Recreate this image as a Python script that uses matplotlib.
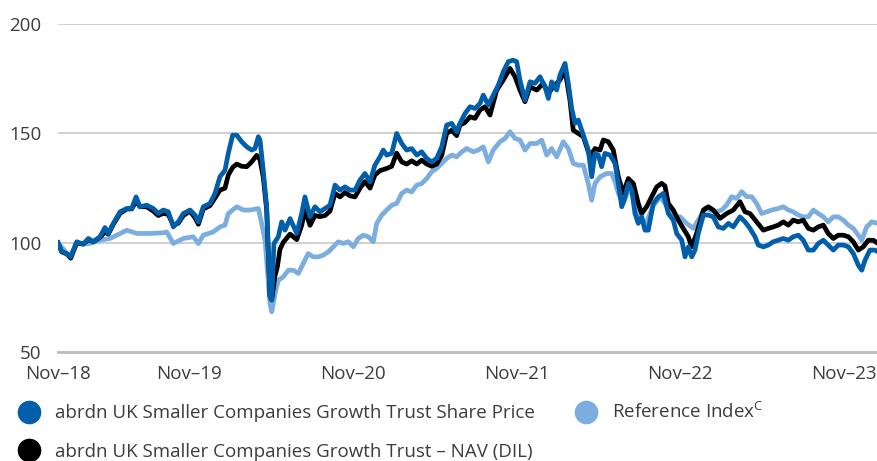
import matplotlib
matplotlib.use("Agg")
import matplotlib.pyplot as plt
from matplotlib.lines import Line2D

# months since start of the five year window
share_months = [0.0, 0.27, 0.64, 0.93, 1.37, 1.85, 2.22, 2.58, 3.07, 3.44, 3.68, 4.05, 4.54, 5.03, 5.39, 5.71,
                6.00, 6.49, 6.97, 7.34, 7.70, 8.07, 8.44, 8.80, 9.17, 9.66, 10.02, 10.27, 10.63, 11.12, 11.49,
                11.85, 12.22, 12.46, 12.78, 13.08, 13.44, 13.81, 14.17, 14.41, 14.66, 14.78, 15.02, 15.27, 15.51,
                15.64, 15.80, 16.12, 16.37, 16.61, 16.98, 17.47, 17.83, 18.07, 18.44, 18.80, 19.17, 19.54, 19.90,
                20.27, 20.63, 21.00, 21.37, 21.73, 22.10, 22.46, 22.83, 23.19, 23.56, 23.80, 24.05, 24.42, 24.78,
                25.15, 25.51, 25.88, 26.25, 26.61, 26.98, 27.34, 27.71, 28.08, 28.44, 28.81, 29.17, 29.41, 29.78,
                30.15, 30.51, 30.88, 31.12, 31.49, 31.85, 32.22, 32.58, 32.95, 33.31, 33.56, 33.80, 34.17, 34.54,
                34.90, 35.27, 35.63, 35.88, 36.12, 36.49, 36.73, 37.10, 37.34, 37.59, 37.83, 38.07, 38.32, 38.56,
                38.80, 39.05, 39.29, 39.53, 39.78, 40.02, 40.39, 40.76, 41.00, 41.25, 41.49, 41.73, 41.98, 42.22,
                42.46, 42.71, 42.95, 43.19, 43.56, 43.93, 44.29, 44.66, 45.02, 45.27, 45.64, 45.88, 46.12, 46.37,
                46.61, 46.85, 47.22, 47.58, 47.95, 48.31, 48.68, 49.05, 49.41, 49.90, 50.27, 50.63, 51.00, 51.24,
                51.61, 51.97, 52.34, 52.70, 53.07, 53.44, 53.80, 54.17, 54.53, 54.90, 55.27, 55.63, 56.00, 56.36,
                56.73, 57.09, 57.46, 57.83, 58.19, 58.56, 58.81, 59.05, 59.41, 59.78, 60.00]
share_values = [100, 95.9, 95, 93.6, 100.5, 99.4, 102, 100.5, 102.8, 107, 104.3, 108.9, 114.2, 115.7, 115.7, 121,
                116.5, 117.2, 115.7, 113.4, 115, 114.2, 107.3, 109.6, 113.4, 115, 112.7, 109.6, 116.5, 118, 122.6,
                130.2, 133.2, 140.9, 149.2, 149.2, 146.2, 143.9, 142.4, 143.1, 148.5, 147, 133, 116.5, 75.3,
                73.8, 99.7, 102.8, 109.6, 105.8, 111.1, 104.3, 113.4, 121, 111.9, 116.5, 114.2, 115.7, 117.2,
                126.4, 124.1, 125.6, 124.1, 124.1, 128.7, 131.7, 127.9, 135.5, 139.3, 142.4, 140.1, 140.9, 150,
                145.4, 142.4, 143.1, 140.1, 141.6, 138.6, 137, 138.6, 143.9, 153.8, 154.6, 150.8, 154.6, 159.1,
                162.2, 161.4, 163.7, 167.5, 163, 167.5, 172.1, 178.2, 182.8, 183.5, 182.8, 174.4, 165.2, 173.6,
                172.9, 175.9, 171.3, 166, 173.6, 169.8, 176.7, 182, 172.9, 161.4, 154.6, 156.1, 151.5, 147,
                142.4, 130.2, 140.9, 140.1, 134.8, 140.9, 140.1, 136.3, 127.1, 116.5, 121, 127.1, 124.1, 113.4,
                108.9, 111.9, 105.8, 105.8, 118, 121, 122.6, 113.4, 110.4, 104.3, 101.2, 93.6, 98.2, 93.6,
                96.7, 104.3, 112.7, 112.7, 111.9, 107.3, 106.6, 108.9, 107.3, 111.9, 109.6, 106.6, 102.8, 99,
                98.2, 99, 100.5, 101.2, 102, 101.2, 102.8, 103.5, 101.2, 96.7, 96.7, 99.7, 101.2, 99,
                96.7, 99, 99, 98.2, 95.2, 89.8, 87.5, 92.1, 96.7, 96.7, 95.9]

nav_months = [0.0, 0.27, 0.64, 0.93, 1.37, 1.85, 2.22, 2.58, 3.07, 3.44, 3.68, 4.05, 4.54, 5.03, 5.39, 5.71,
              6.00, 6.49, 6.97, 7.34, 7.70, 8.07, 8.44, 8.80, 9.17, 9.66, 10.02, 10.27, 10.63, 11.12, 11.49,
              11.85, 12.22, 12.46, 12.78, 13.08, 13.44, 13.81, 14.17, 14.54, 14.78, 15.02, 15.27, 15.51, 15.64,
              15.88, 16.05, 16.24, 16.49, 16.98, 17.47, 17.83, 18.07, 18.44, 18.80, 19.17, 19.54, 19.90, 20.27,
              20.63, 21.00, 21.37, 21.73, 22.10, 22.46, 22.83, 23.19, 23.56, 24.05, 24.42, 24.78, 25.15, 25.51,
              25.88, 26.25, 26.61, 26.98, 27.34, 27.71, 28.08, 28.44, 28.81, 29.17, 29.41, 29.78, 30.15, 30.51,
              30.88, 31.24, 31.61, 32.10, 32.58, 33.07, 33.44, 33.80, 34.17, 34.54, 35.03, 35.51, 35.88, 36.24,
              36.73, 37.10, 37.46, 37.70, 38.07, 38.44, 38.93, 39.29, 39.66, 39.90, 40.27, 40.63, 41.00, 41.36,
              41.73, 42.10, 42.46, 42.71, 43.07, 43.44, 43.81, 44.17, 44.41, 44.66, 45.02, 45.39, 45.75, 46.12,
              46.37, 46.73, 47.22, 47.58, 47.95, 48.44, 48.93, 49.41, 49.90, 50.27, 50.63, 51.12, 51.61, 51.97,
              52.34, 52.70, 53.07, 53.44, 53.80, 54.17, 54.53, 54.90, 55.27, 55.63, 56.00, 56.36, 56.73, 57.09,
              57.46, 57.83, 58.19, 58.56, 58.92, 59.29, 59.66, 60.00]
nav_values = [100, 95.9, 95, 93, 100, 99.4, 101.5, 100.5, 102.5, 105, 104, 108.5, 113.5, 115.5, 115.5, 119,
              116.5, 116.5, 114.5, 112.5, 113.5, 113, 108, 109, 112.5, 114.5, 111.5, 108.5, 115.5, 117, 120.5,
              124.1, 125, 131, 134.5, 136, 135, 134.8, 137, 140, 138, 130, 115, 76, 74,
              85, 89, 97, 100.3, 104, 101.5, 108, 115, 108, 112.5, 112, 112.5, 114.5, 122.6,
              121, 123, 121.5, 121, 125, 128, 125, 131, 133, 134, 135, 141, 137, 136,
              137.5, 136, 137.8, 136, 135, 136, 140, 150, 151.5, 149, 153.8, 155, 157.6, 156.9,
              160.7, 162.2, 158.4, 169.8, 174.4, 179.7, 175.9, 169.8, 164.5, 171.3, 169.8, 172.9, 168.3, 171.3,
              174.4, 179, 165.2, 151.5, 150, 148.5, 139.3, 143.1, 142.4, 147, 146.2, 142.4, 130.2, 122.6,
              129.4, 127.1, 118, 113.4, 116.5, 121, 125.6, 127.2, 126, 118, 115, 110.4, 106.6, 102.8,
              98.2, 104.3, 115, 116.5, 115, 111.2, 113.4, 115, 118.8, 114.2, 113.4, 109.6, 105.8, 106.6,
              107.3, 108.1, 109.6, 108.1, 110.4, 109.6, 110.4, 106.6, 105.8, 107.3, 108.1, 104.3, 102, 103.5,
              103.5, 102.8, 100.5, 96.7, 98.2, 101.2, 101.2, 99.7]

ref_months = [0.0, 0.88, 1.37, 2.34, 3.07, 3.80, 4.30, 5.03, 5.76, 6.73, 7.70, 7.95, 8.44, 9.17, 9.90, 10.27,
              10.63, 11.36, 11.85, 12.22, 12.46, 13.08, 13.56, 14.05, 14.66, 14.93, 15.15, 15.51, 15.64, 15.88,
              16.12, 16.49, 16.85, 17.22, 17.58, 17.95, 18.31, 18.68, 19.05, 19.41, 19.78, 20.14, 20.51, 20.88,
              21.24, 21.61, 21.97, 22.34, 22.70, 23.07, 23.32, 23.69, 24.05, 24.42, 24.78, 25.15, 25.51, 25.88,
              26.25, 26.61, 26.98, 27.34, 27.71, 28.08, 28.44, 28.81, 29.17, 29.54, 29.90, 30.39, 30.75, 31.12,
              31.49, 31.85, 32.34, 32.71, 33.07, 33.44, 33.80, 34.17, 34.54, 35.03, 35.39, 35.76, 36.12, 36.49,
              36.97, 37.34, 37.70, 38.07, 38.44, 38.80, 39.05, 39.29, 39.66, 40.15, 40.51, 40.76, 41.00, 41.36,
              41.73, 42.10, 42.46, 42.95, 43.56, 44.05, 44.66, 45.02, 45.51, 46.00, 46.49, 46.98, 47.34, 47.71,
              48.20, 48.56, 48.93, 49.29, 49.66, 50.03, 50.39, 50.76, 51.12, 51.49, 51.86, 52.22, 52.70, 53.07,
              53.44, 53.80, 54.17, 54.53, 54.90, 55.27, 55.63, 56.00, 56.36, 56.73, 57.09, 57.46, 57.83, 58.19,
              58.56, 58.81, 59.17, 59.54, 60.00]
ref_values = [100, 93.6, 99.7, 99.7, 101.2, 102, 103.5, 105.8, 104.3, 104.3, 104.6, 105, 99.7, 102, 102.8, 99.7,
              103.5, 105, 107.3, 108.1, 113.4, 116.5, 115, 115, 115.7, 108, 101.2, 72.3, 68.5, 76.8,
              82.9, 84.5, 87.5, 87.5, 86, 90.6, 95.1, 93.6, 93.6, 94.4, 95.9, 98.2, 100.5, 99.7,
              100.5, 98.2, 102, 103.5, 102.8, 100.5, 108.9, 112.7, 115, 117.2, 118, 122.6, 124.1, 123.3,
              126.4, 127.1, 129.4, 132.5, 134, 136.3, 138.6, 140.1, 139.3, 141.6, 143.1, 141.6, 142.4, 143.9,
              137, 142.4, 146.2, 147.7, 150.8, 147.7, 147, 142.4, 145.4, 145.4, 147, 140.1, 143.1, 139.3,
              146.2, 143.1, 136.3, 135.5, 135.5, 127.1, 119.5, 127.1, 130.2, 131.7, 131.7, 127.9, 122.6, 118,
              124, 122, 112, 108, 117, 121, 116, 112, 111.9, 108.9, 106.6, 111.9, 115.7, 115,
              114.2, 115, 117.3, 121.1, 120.3, 123.4, 121.1, 121.1, 118, 113.4, 114.2, 115, 115.7, 116.5,
              115, 114.2, 112.7, 111.9, 111.9, 115, 113.4, 111.9, 109.6, 111.9, 111.9, 110.4, 108.1, 106.6,
              103.5, 101.2, 107.3, 109.6, 108.9]

tick_months = [0, 9.6, 21.6, 33.6, 45.5, 57.5]
tick_labels = ['Nov–18', 'Nov–19', 'Nov–20', 'Nov–21', 'Nov–22', 'Nov–23']
y_ticks = [50, 100, 150, 200]

share_label = 'abrdn UK Smaller Companies Growth Trust Share Price'
nav_label = 'abrdn UK Smaller Companies Growth Trust – NAV (DIL)'
ref_label = 'Reference Index$^{\\mathrm{C}}$'

share_color = '#005EAA'
nav_color = '#000000'
ref_color = '#7BAEDF'
text_color = '#3c3c3c'

plt.rcParams['font.family'] = ['Open Sans', 'DejaVu Sans']
plt.rcParams['mathtext.fontset'] = 'custom'
plt.rcParams['mathtext.rm'] = 'Open Sans'

fig = plt.figure(figsize=(8.78, 4.61), dpi=100)
ax = fig.add_axes([58 / 878, 1 - 352.3 / 461, 820 / 878, 328.3 / 461])

ax.plot(ref_months, ref_values, color=ref_color, lw=3.4, zorder=3, solid_joinstyle='round')
ax.plot(nav_months, nav_values, color=nav_color, lw=3.4, zorder=4, solid_joinstyle='round')
ax.plot(share_months, share_values, color=share_color, lw=3.4, zorder=5, solid_joinstyle='round')

ax.set_xlim(0, 60)
ax.set_ylim(50, 200)
ax.set_yticks(y_ticks)
ax.set_xticks(tick_months, tick_labels)
ax.tick_params(axis='both', length=0, labelsize=13.5, labelcolor=text_color)
ax.tick_params(axis='y', pad=12)
ax.tick_params(axis='x', pad=9)
for s in ['top', 'right', 'left']:
    ax.spines[s].set_visible(False)
ax.spines['bottom'].set_color('#bdbdbd')
ax.spines['bottom'].set_linewidth(2)
ax.grid(axis='y', color='#c8c8c8', lw=1.2)
ax.set_axisbelow(True)

handles = [Line2D([], [], ls='none', marker='o', ms=16, color=share_color),
           Line2D([], [], ls='none', marker='o', ms=16, color=nav_color),
           Line2D([], [], ls='none', marker='o', ms=16, color=ref_color)]
fig.legend(handles, [share_label, nav_label, ref_label], ncol=2, loc='upper left',
           bbox_to_anchor=(12 / 878, 1 - 396 / 461), frameon=False, fontsize=13.5,
           labelcolor=text_color, handlelength=1.2, handletextpad=0.8,
           labelspacing=1.1, columnspacing=2.1, borderaxespad=0, borderpad=0.3)

fig.savefig('out.png', dpi=100)
